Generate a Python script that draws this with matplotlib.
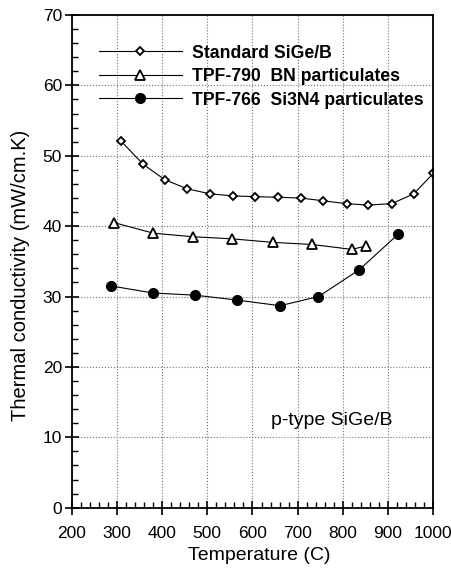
import matplotlib.pyplot as plt
from matplotlib.ticker import MultipleLocator

plt.rcParams['font.family'] = ['Liberation Sans', 'DejaVu Sans']

# Thermal conductivity of p-type SiGe/B samples vs temperature
std_t = [309, 358, 406, 456, 506, 556, 606, 657, 707, 757, 808, 856, 908, 957, 1000]
std_k = [52.1, 48.8, 46.6, 45.3, 44.6, 44.3, 44.2, 44.1, 44.0, 43.6, 43.2, 43.0, 43.2, 44.6, 47.5]

bn_t = [294, 381, 468, 555, 645, 732, 820, 852]
bn_k = [40.5, 39.0, 38.5, 38.2, 37.7, 37.4, 36.7, 37.2]

si_t = [288, 380, 473, 566, 661, 746, 836, 923]
si_k = [31.5, 30.5, 30.2, 29.5, 28.7, 30.0, 33.8, 38.9]

labels = ["Standard SiGe/B", "TPF-790  BN particulates", "TPF-766  Si3N4 particulates"]

fig = plt.figure(figsize=(4.52, 5.69), dpi=100)
ax = fig.add_axes([0.1586, 0.1077, 0.8, 0.8659])

ax.plot(std_t, std_k, color="black", lw=0.8, marker="D", ms=4.5,
        mfc="white", mec="black", mew=1.3, label=labels[0])
ax.plot(bn_t, bn_k, color="black", lw=0.8, marker="^", ms=6.5,
        mfc="white", mec="black", mew=1.3, label=labels[1])
ax.plot(si_t, si_k, color="black", lw=0.8, marker="o", ms=7,
        mfc="black", mec="black", label=labels[2])

ax.set_xlim(200, 1000)
ax.set_ylim(0, 70)
ax.xaxis.set_major_locator(MultipleLocator(100))
ax.xaxis.set_minor_locator(MultipleLocator(20))
ax.yaxis.set_major_locator(MultipleLocator(10))
ax.yaxis.set_minor_locator(MultipleLocator(2))
ax.tick_params(which="major", direction="inout", length=10, width=1.2,
               labelsize=12.5)
ax.tick_params(axis="x", which="major", pad=8)
ax.tick_params(axis="y", which="major", pad=2)
ax.tick_params(which="minor", direction="in", length=4, width=1)
for s in ax.spines.values():
    s.set_linewidth(1.3)

ax.grid(True, which="major", linestyle=":", color="0.45", lw=0.8)

ax.set_xlabel("Temperature (C)", fontsize=14)
ax.set_ylabel("Thermal conductivity (mW/cm.K)", fontsize=14.5)
ax.xaxis.set_label_coords(0.52, -0.08)
ax.yaxis.set_label_coords(-0.115, 0.472)

ax.text(776, 12.4, "p-type SiGe/B", fontsize=14, ha="center", va="center")

ax.legend(loc="upper left", bbox_to_anchor=(0.075, 0.94), frameon=False,
          handlelength=4.7, handletextpad=0.6, labelspacing=0.37,
          borderpad=0, borderaxespad=0,
          prop={"weight": "bold", "size": 12.7})

fig.savefig("out.png", dpi=100)
